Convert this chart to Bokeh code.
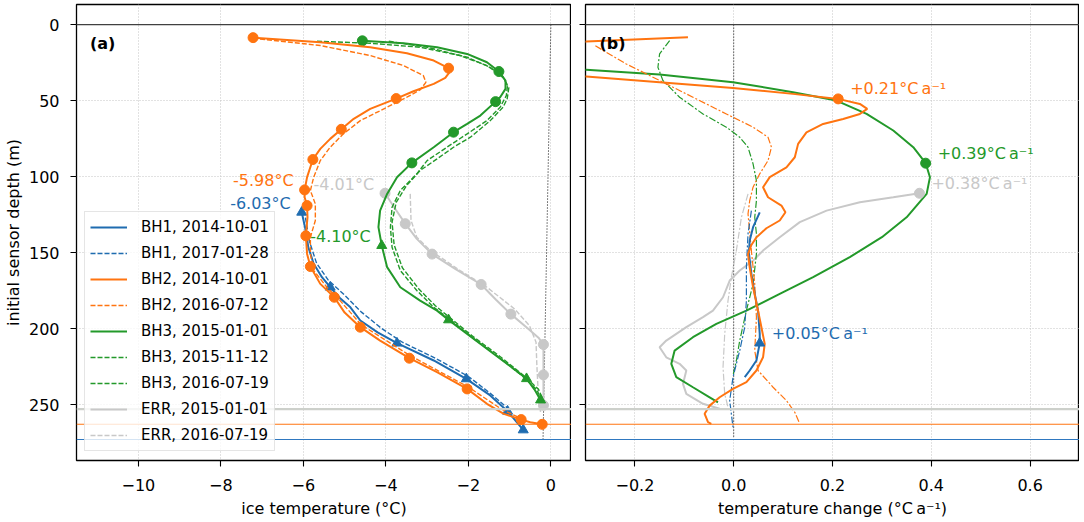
from bokeh.plotting import figure
from bokeh.layouts import row
from bokeh.models import (Range1d, FixedTicker, CustomJSTickFormatter, Span,
                          Label, Legend, LegendItem)
from bokeh.embed import file_html
from bokeh.resources import INLINE

FONT = "DejaVu Sans"
C_BH1 = "#1f6cb0"
C_BH2 = "#ff7410"
C_BH3 = "#23992a"
C_ERR = "#c8c8c8"

# ---------------- panel (a): ice temperature (degC) vs depth (m) ----------------
bh1_T = [-6.04, -5.96, -5.88, -5.75, -5.55, -5.35, -5.11, -4.86, -4.62, -4.2, -3.73, -2.84, -2.05, -1.47, -1.05, -0.67]
bh1_d = [123.5, 133.3, 146.5, 157.4, 166.2, 172.8, 180, 186, 194.7, 202.5, 209.6, 221, 233.1, 244, 254.4, 266.7]
bh1_mk_T = [-6.04, -5.35, -3.73, -2.05, -1.05, -0.67]
bh1_mk_d = [123.5, 172.8, 209.6, 233.1, 254.4, 266.7]
bh1b_T = [-5.95, -5.85, -5.68, -5.4, -5.0, -4.6, -4.1, -3.6, -2.8, -2.0, -1.45, -1.0]
bh1b_d = [127, 143, 157, 168, 178, 189, 200, 209, 219.5, 231.5, 243, 253.5]

bh2_T = [-7.22, -5.59, -4.38, -3.49, -2.84, -2.48, -2.46, -2.56, -2.84, -3.33, -3.75, -4.38, -4.78, -5.08,
         -5.35, -5.59, -5.77, -5.91, -5.97, -5.97, -5.91, -5.90, -5.94, -5.91, -5.83, -5.59, -5.25, -5.0,
         -4.62, -4.14, -3.43, -2.76, -2.03, -1.55, -1.14, -0.72, -0.50, -0.21]
bh2_d = [8.6, 11.6, 14.9, 18.9, 23.7, 28.7, 31.4, 35.1, 39, 43.9, 48.7, 55.5, 62, 68.9,
         75.2, 81.8, 88.8, 100.4, 108.8, 113.6, 119.1, 126.8, 139, 150.9, 159.2, 170.6, 179.4, 189.5,
         199.1, 207.9, 219.5, 228.7, 239.7, 249.5, 256.1, 259.9, 261.6, 263]
bh2_mk_T = [-7.22, -2.48, -3.75, -5.08, -5.77, -5.97, -5.91, -5.94, -5.83, -5.25, -4.62, -3.43, -2.03, -0.72, -0.21]
bh2_mk_d = [8.6, 28.7, 48.7, 68.9, 88.8, 108.8, 119.1, 139, 159.2, 179.4, 199.1, 219.5, 239.7, 259.9, 263]
bh2b_T = [-7.22, -5.59, -4.38, -3.57, -3.09, -3.03, -3.17, -3.49, -3.97, -4.62, -5.03, -5.35, -5.59, -5.75,
          -5.83, -5.71, -5.71, -5.83, -5.83, -5.75, -5.43, -5.11, -4.6, -3.4, -2.0, -1.2, -0.7]
bh2b_d = [9.0, 13.8, 20.4, 27, 33.6, 38, 43, 47.8, 54.4, 63.2, 71.9, 80.7, 89.5, 100.4,
          109.2, 118, 128.9, 139.9, 150.9, 161.8, 172.8, 181.6, 197.5, 218, 238.5, 253, 259.5]

bh3_T = [-4.57, -3.57, -2.76, -2.03, -1.55, -1.26, -1.10, -1.10, -1.23, -1.34, -1.71, -2.03, -2.36, -2.84,
         -3.37, -3.73, -3.97, -4.14, -4.18, -4.10, -3.97, -3.65, -3.17, -2.76, -2.48, -2.03, -1.39, -0.74,
         -0.59, -0.40, -0.25]
bh3_d = [10.7, 12.3, 14.9, 19.3, 24.8, 30.9, 36.8, 42.3, 47.8, 50.7, 59.9, 65.3, 70.8, 80.7,
         91, 100.4, 111.4, 122.4, 133.3, 145.4, 159.6, 172.8, 181.6, 188.2, 194.3, 203.5, 216.6, 229.8,
         233, 240, 247]
bh3_circ_T = [-4.57, -1.26, -1.34, -2.36, -3.37]
bh3_circ_d = [10.7, 30.9, 50.7, 70.8, 91]
bh3_tri_T = [-4.10, -2.48, -0.59, -0.25]
bh3_tri_d = [145.4, 194.3, 233, 247]
bh3b_T = [-5.67, -4.38, -3.17, -2.20, -1.55, -1.18, -1.05, -1.08, -1.23, -1.55, -2.03, -2.52, -3.0, -3.25,
          -3.65, -3.85, -3.89, -3.85, -3.65, -3.25, -2.84, -2.4, -1.95, -1.3, -0.7, -0.35, -0.2]
bh3b_d = [11, 12.3, 14.9, 20.4, 27, 33.6, 40.1, 46.7, 54.4, 63.2, 71.9, 80.7, 89.5, 98.2,
          109.2, 120.2, 133.3, 146.5, 161.8, 175, 186, 195, 205, 218, 231, 240, 248]
bh3c_T = [-3.93, -3.0, -2.03, -1.47, -1.15, -1.02, -1.06, -1.16, -1.47, -1.95, -2.36, -2.76, -3.17, -3.5,
          -3.75, -3.85, -3.8, -3.6, -3.2, -2.8, -2.35, -1.9, -1.25, -0.65, -0.3, -0.15]
bh3c_d = [11, 14.9, 21.5, 28.1, 35.1, 41.7, 48.9, 54.4, 63.2, 74.1, 80.7, 88.4, 96, 106,
          117, 130, 145, 160, 174, 185, 195, 205, 218, 231, 240, 249]

err_T = [-4.02, -3.78, -3.53, -3.25, -2.88, -2.3, -1.69, -1.33, -0.97, -0.6, -0.3, -0.18, -0.18, -0.18]
err_d = [111, 121, 131, 141, 151, 161, 171, 181, 190.5, 199, 206, 210.5, 230.5, 250.5]
err_mk_T = [-4.02, -3.53, -2.88, -1.69, -0.97, -0.18, -0.18, -0.18]
err_mk_d = [111, 131, 151, 171, 190.5, 210.5, 230.5, 250.5]
errb_T = [-3.41, -3.39, -3.25, -2.92, -2.20, -1.55, -0.88, -0.52, -0.36, -0.34, -0.30, -0.25]
errb_d = [111.4, 128.9, 139.9, 148.7, 161.8, 172.8, 187.1, 198, 209, 224, 246, 254.8]

pmp_T = [0.0, -0.19]
pmp_d = [0, 273]

# minimum-temperature labels: (text, T, depth, colour key)
min_labels = [("-5.98°C", -5.97, 108.8, "BH2"), ("-6.03°C", -6.04, 123.5, "BH1"),
              ("-4.01°C", -4.02, 111, "ERR"), ("-4.10°C", -4.10, 145.4, "BH3")]

# borehole bottoms (m)
bottom_err, bottom_bh2, bottom_bh1 = 253, 263, 273

# ---------------- panel (b): temperature change (degC/a) vs depth ----------------
r_bh1_v = [0.0527, 0.0392, 0.0324, 0.0307, 0.0358, 0.0426, 0.0493, 0.0527, 0.0527, 0.046, 0.0324, 0.0223]
r_bh1_d = [123.5, 133.3, 142.1, 150, 164, 177.2, 188.2, 203.5, 209.6, 221, 227.6, 232]
r_bh1b_v = [0.0358, 0.029, 0.0257, 0.0257, 0.0223, 0.0122, -0.0014, -0.0081, -0.0014]
r_bh1b_d = [122.4, 137.7, 159.7, 181.6, 199.1, 214.5, 232, 247.4, 264.9]

r_bh2_v = [-0.0926, -0.2986, -0.6, -0.75, -0.6, -0.2986, -0.150, -0.0014, 0.120, 0.2115, 0.2554, 0.2703,
           0.2554, 0.2216, 0.181, 0.1473, 0.1304, 0.1237, 0.1068, 0.073, 0.0594, 0.0695, 0.0966, 0.1047,
           0.0932, 0.0662, 0.046, 0.0358, 0.029, 0.0324, 0.0392, 0.0493, 0.0561, 0.0628, 0.0594, 0.046,
           0.0257, -0.0014, -0.0284, -0.0487, -0.0588, -0.052, -0.0453]
r_bh2_d = [8.3, 11.2, 15.5, 21, 26.7, 34.2, 37.9, 41.7, 45.6, 48.9, 52.2, 55.5,
           58.8, 62.1, 65.4, 70.9, 78.5, 87.3, 93.9, 100.4, 107, 113.6, 119.1, 123.5,
           128.9, 134, 140, 145, 151, 159.7, 172.8, 188.2, 199.1, 210.1, 218.9, 227.6,
           235.3, 239.7, 245.2, 250.7, 256.1, 261.6, 262.7]
r_bh2b_v = [-0.28, -0.2176, -0.150, -0.0825, -0.0149, 0.0392, 0.0695, 0.0764, 0.0695, 0.0527, 0.0392,
            0.0324, 0.029, 0.0358, 0.0426, 0.046, 0.0426, 0.0493, 0.0797, 0.1068, 0.1237, 0.1324]
r_bh2b_d = [14, 25.9, 36.8, 47.8, 58.8, 67.5, 74.1, 80.7, 89.5, 98.2, 107,
            115.8, 124.5, 148.7, 170.6, 192.5, 214.5, 227.6, 238.6, 247.4, 255.1, 261.6]

r_bh3_v = [-0.6, -0.2986, -0.150, -0.0014, 0.120, 0.208, 0.269, 0.323, 0.3635, 0.3886, 0.3973, 0.3906,
           0.350, 0.300, 0.235, 0.1608, 0.0932, 0.0257, -0.0351, -0.0825, -0.1196, -0.1263, -0.1162,
           -0.0825, -0.0487, -0.0318]
r_bh3_d = [23.5, 29.8, 32.9, 37.9, 44.5, 50, 58.8, 69.7, 80.7, 91.2, 100.4, 111.4,
           126.8, 139.9, 153, 166.2, 177.2, 188.2, 196.9, 205.7, 214.5, 223.2, 232,
           238.6, 245.2, 248.5]
r_bh3b_v = [-0.1297, -0.150, -0.1534, -0.1433, -0.1095, -0.0622, -0.0149, 0.0122, 0.029, 0.0392, 0.046,
            0.046, 0.0426, 0.046, 0.046, 0.0392, 0.0257, 0.0122, 0.0054, -0.0007]
r_bh3b_d = [10.5, 19.3, 28.1, 36.8, 47.8, 58.8, 67.5, 74.1, 80.7, 91.7, 102.6,
            115.8, 126.8, 137.7, 150.9, 170.6, 188.2, 207.9, 221, 229.8]

r_err_v = [0.376, 0.323, 0.2554, 0.188, 0.1338, 0.0932, 0.0594, 0.0392, 0.0122, -0.0081, -0.0216, -0.042,
           -0.0622, -0.0959, -0.1365, -0.150, -0.1365, -0.1095, -0.0959, -0.1027, -0.0959, -0.0622, -0.0284]
r_err_d = [111, 113.6, 116.9, 122.4, 130, 139.9, 148.7, 155.3, 161.8, 168.4, 179.4, 188.2,
           192.5, 199.1, 207.9, 212.3, 218.9, 223.2, 227.6, 236.4, 243, 249.5, 252.8]
r_errb_v = [0.029, 0.0156, 0.0054, -0.0047, -0.0115, -0.0182, -0.0216, -0.0182, -0.0115]
r_errb_d = [111.4, 126.8, 148.7, 166.2, 181.6, 203.5, 225.4, 243, 251.8]

zero_v = [0.0, 0.0]
zero_d = [0, 272]

# max-rate labels: (text, rate, depth, colour key, marker)
rate_labels = [("+0.21°C\u2009a\u207b\u00b9", 0.2115, 48.9, "BH2", "circle"),
               ("+0.39°C\u2009a\u207b\u00b9", 0.3886, 91.2, "BH3", "circle"),
               ("+0.38°C\u2009a\u207b\u00b9", 0.376, 111, "ERR", "circle"),
               ("+0.05°C\u2009a\u207b\u00b9", 0.0527, 209.6, "BH1", "triangle")]

legend_labels = ["BH1, 2014-10-01", "BH1, 2017-01-28", "BH2, 2014-10-01", "BH2, 2016-07-12",
                 "BH3, 2015-01-01", "BH3, 2015-11-12", "BH3, 2016-07-19", "ERR, 2015-01-01",
                 "ERR, 2016-07-19"]

y_ticks = [0, 50, 100, 150, 200, 250]
xa_ticks = [-10, -8, -6, -4, -2, 0]
xb_ticks = [-0.2, 0.0, 0.2, 0.4, 0.6]

COL = {"BH1": C_BH1, "BH2": C_BH2, "BH3": C_BH3, "ERR": C_ERR}

Y_RANGE = (286.8, -13.2)
FRAME_H = 456
TOP = 4
BOTTOM = 61
H = TOP + FRAME_H + BOTTOM


def style(p, xticks, xfmt, ylabels=True):
    p.outline_line_color = "black"
    p.outline_line_width = 1.3
    p.background_fill_color = "white"
    p.border_fill_color = "white"
    for ax in (p.xaxis[0], p.yaxis[0]):
        ax.axis_line_color = None
        ax.major_tick_line_color = "black"
        ax.major_tick_line_width = 1.1
        ax.major_tick_out = 6
        ax.major_tick_in = 0
        ax.minor_tick_line_color = None
        ax.major_label_text_font = FONT
        ax.major_label_text_font_size = "16px"
        ax.major_label_text_color = "black"
        ax.axis_label_text_font = FONT
        ax.axis_label_text_font_size = "16px"
        ax.axis_label_text_font_style = "normal"
        ax.axis_label_text_color = "black"
    p.xaxis[0].major_label_standoff = 12
    p.xaxis[0].axis_label_standoff = 5
    p.yaxis[0].major_label_standoff = 11
    p.yaxis[0].axis_label_standoff = 3
    p.xaxis[0].ticker = FixedTicker(ticks=xticks)
    p.xaxis[0].formatter = CustomJSTickFormatter(code=xfmt)
    p.yaxis[0].ticker = FixedTicker(ticks=y_ticks)
    if not ylabels:
        p.yaxis[0].formatter = CustomJSTickFormatter(code="return ''")
        p.yaxis[0].major_label_standoff = 0
    for g in (p.xgrid[0], p.ygrid[0]):
        g.grid_line_color = "#c4c4c4"
        g.grid_line_dash = "1 2"
        g.grid_line_width = 1
    p.xgrid[0].ticker = FixedTicker(ticks=xticks)
    p.ygrid[0].ticker = FixedTicker(ticks=y_ticks)
    # reference lines
    p.add_layout(Span(location=0, dimension="width", line_color="#404040", line_width=1.3))
    p.add_layout(Span(location=bottom_err, dimension="width", line_color="#cdd0cb", line_width=2.2))
    p.add_layout(Span(location=bottom_bh2, dimension="width", line_color=C_BH2, line_width=1.1))
    p.add_layout(Span(location=bottom_bh1, dimension="width", line_color="#2f78c0", line_width=1.1))


# ---------------- figure (a) ----------------
p1 = figure(width=564, height=H, frame_width=495, frame_height=FRAME_H,
            x_range=Range1d(-11.5, 0.5), y_range=Range1d(*Y_RANGE),
            output_backend="svg", toolbar_location=None,
            min_border_left=69, min_border_right=0, min_border_top=TOP, min_border_bottom=BOTTOM)
p1.xaxis.axis_label = "ice temperature (°C)"
p1.yaxis.axis_label = "initial sensor depth (m)"
style(p1, xa_ticks, "return tick.toFixed(0).replace('-', '\\u2212')")

DASH = "5 2"
DOT = "1 2"
DW = 1.4
p1.line(pmp_T, pmp_d, line_color="black", line_width=1, line_dash=DOT)

r_err = p1.line(err_T, err_d, line_color=C_ERR, line_width=2)
r_errb = p1.line(errb_T, errb_d, line_color=C_ERR, line_width=DW, line_dash=DASH)
p1.scatter(err_mk_T, err_mk_d, marker="circle", size=10, color=C_ERR)

r_bh3 = p1.line(bh3_T, bh3_d, line_color=C_BH3, line_width=2)
r_bh3b = p1.line(bh3b_T, bh3b_d, line_color=C_BH3, line_width=DW, line_dash=DASH)
r_bh3c = p1.line(bh3c_T, bh3c_d, line_color=C_BH3, line_width=DW, line_dash=DASH)
p1.scatter(bh3_circ_T, bh3_circ_d, marker="circle", size=10, color=C_BH3)
p1.scatter(bh3_tri_T, bh3_tri_d, marker="triangle", size=10, color=C_BH3)

r_bh1 = p1.line(bh1_T, bh1_d, line_color=C_BH1, line_width=2)
r_bh1b = p1.line(bh1b_T, bh1b_d, line_color=C_BH1, line_width=DW, line_dash=DASH)
p1.scatter(bh1_mk_T, bh1_mk_d, marker="triangle", size=10, color=C_BH1)

r_bh2 = p1.line(bh2_T, bh2_d, line_color=C_BH2, line_width=2)
r_bh2b = p1.line(bh2b_T, bh2b_d, line_color=C_BH2, line_width=DW, line_dash=DASH)
p1.scatter(bh2_mk_T, bh2_mk_d, marker="circle", size=10, color=C_BH2)

px_per_T = 495 / 12.0
px_per_m = FRAME_H / (Y_RANGE[0] - Y_RANGE[1])
for txt, t, d, key in min_labels:
    p1.add_layout(Label(x=t - 11 / px_per_T, y=d - 9 / px_per_m, text=txt, text_align="right",
                        text_baseline="middle", text_font=FONT, text_font_size="16px",
                        text_color=COL[key]))
p1.add_layout(Label(x=-11.5 + 13.5 / px_per_T, y=12.7, text="(a)", text_baseline="middle",
                    text_font=FONT, text_font_size="16px", text_font_style="bold", text_color="black"))

renderers = [r_bh1, r_bh1b, r_bh2, r_bh2b, r_bh3, r_bh3b, r_bh3c, r_err, r_errb]
legend = Legend(items=[LegendItem(label=lab, renderers=[r]) for lab, r in zip(legend_labels, renderers)],
                location=(8, 9), margin=0, padding=5, spacing=6,
                glyph_width=37, glyph_height=20, label_height=20, label_standoff=14,
                label_text_font=FONT, label_text_font_size="15px", label_text_color="black",
                border_line_color="#cccccc", border_line_width=1,
                background_fill_color="white", background_fill_alpha=0.8)
p1.add_layout(legend)

# ---------------- figure (b) ----------------
p2 = figure(width=508, height=H, frame_width=494, frame_height=FRAME_H,
            x_range=Range1d(-0.3, 0.7), y_range=Range1d(*Y_RANGE),
            output_backend="svg", toolbar_location=None,
            min_border_left=14, min_border_right=0, min_border_top=TOP, min_border_bottom=BOTTOM)
p2.xaxis.axis_label = "temperature change (°C\u2009a\u207b\u00b9)"
style(p2, xb_ticks, "return tick.toFixed(1).replace('-', '\\u2212')", ylabels=False)

DD = "7 2 2 2"
p2.line(zero_v, zero_d, line_color="black", line_width=1, line_dash=DOT)
p2.line(r_errb_v, r_errb_d, line_color=C_ERR, line_width=1.2, line_dash=DD)
p2.line(r_err_v, r_err_d, line_color=C_ERR, line_width=2)
p2.line(r_bh3b_v, r_bh3b_d, line_color=C_BH3, line_width=1.2, line_dash=DD)
p2.line(r_bh3_v, r_bh3_d, line_color=C_BH3, line_width=2)
p2.line(r_bh2b_v, r_bh2b_d, line_color=C_BH2, line_width=1.2, line_dash=DD)
p2.line(r_bh1b_v, r_bh1b_d, line_color=C_BH1, line_width=1.2, line_dash=DD)
p2.line(r_bh1_v, r_bh1_d, line_color=C_BH1, line_width=2)
p2.line(r_bh2_v, r_bh2_d, line_color=C_BH2, line_width=2)

px_per_v = 494 / 1.0
for txt, v, d, key, mk in rate_labels:
    p2.scatter([v], [d], marker=mk, size=10, color=COL[key])
    p2.add_layout(Label(x=v + 12 / px_per_v, y=d - 10 / px_per_m, text=txt, text_align="left",
                        text_baseline="middle", text_font=FONT, text_font_size="16px",
                        text_color=COL[key]))
p2.add_layout(Label(x=-0.3 + 14 / px_per_v, y=12.7, text="(b)", text_baseline="middle",
                    text_font=FONT, text_font_size="16px", text_font_style="bold", text_color="black"))

layout = row(p1, p2)
open("out.html", "w").write(file_html(layout, INLINE))
